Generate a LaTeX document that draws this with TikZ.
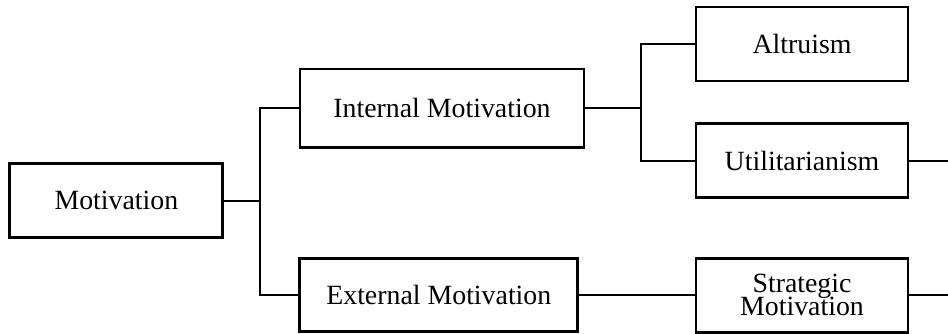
\documentclass[tikz,border=0pt]{standalone}
\usepackage{fontspec}
\setmainfont{Liberation Serif}
\usepackage{tikz}
\usetikzlibrary{positioning}

\begin{document}
\begin{tikzpicture}[
        box/.style={draw, line width=2.1pt, minimum width=5.3cm, minimum height=1.85cm, inner sep=0pt, font=\fontsize{19.8}{22}\selectfont},
        link/.style={line width=1.5pt}]
        % Motivation tree
        \useasboundingbox (0,0) rectangle (23.7,8.35);
        \node[box, minimum width=5.325cm] (motiv) at (2.91,3.33) {Motivation};
        \node[box, minimum width=7.1cm, minimum height=1.97cm] (internal) at (11.05,5.64) {Internal Motivation};
        \node[box, minimum width=6.95cm, minimum height=1.83cm] (external) at (10.97,0.97) {External Motivation};
        \node[box] (altruism) at (20.05,7.25) {Altruism};
        \node[box] (util) at (20.05,4.33) {Utilitarianism};
        \node[box, align=center, font={\fontsize{19.8}{16.5}\selectfont\lineskiplimit=-20pt}] (strategic) at (20.05,0.97) {Strategic\\Motivation};

        \coordinate (split1) at (6.5,3.33);
        \coordinate (split2) at (16.03,5.64);
        \coordinate (utilend) at (23.7,4.33);
        \coordinate (stratend) at (23.7,0.97);

        \draw[link] (motiv) -- (split1);
        \draw[link] (internal.west) -| (split1);
        \draw[link] (external.west) -| (split1);
        \draw[link] (internal) -- (split2);
        \draw[link] (altruism.west) -| (split2);
        \draw[link] (util.west) -| (split2);
        \draw[link] (external) -- (strategic);
        \draw[link] (util) -- (utilend);
        \draw[link] (strategic) -- (stratend);
    \end{tikzpicture}
\end{document}
